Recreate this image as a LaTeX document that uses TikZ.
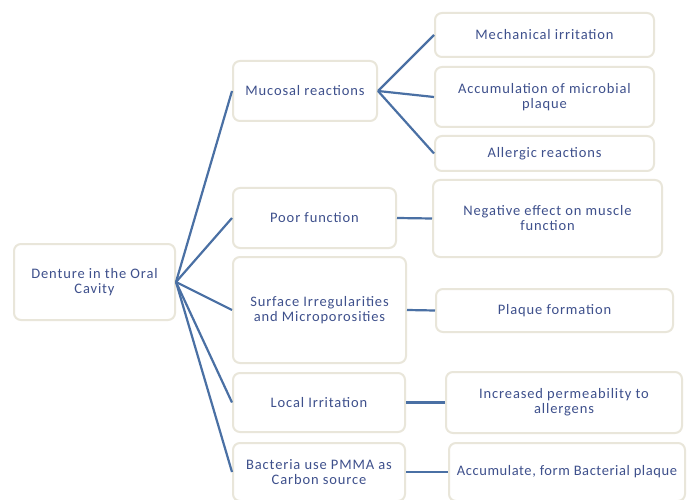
\documentclass[tikz,border=0pt]{standalone}
\usepackage{fontspec}
\setmainfont{Carlito}[LetterSpace=6]
\newfontfamily\tightfont{Carlito}[LetterSpace=4]
\definecolor{txtblue}{RGB}{62,80,140}
\definecolor{lineblue}{RGB}{74,112,164}
\definecolor{boxborder}{RGB}{233,230,218}
\tikzset{
  box/.style={draw=boxborder, line width=2pt, rounded corners=7pt, fill=white,
    text=txtblue, align=center, font=\fontsize{14.5}{15}\selectfont, inner sep=0pt},
  conn/.style={draw=lineblue, line width=2.2pt}
}
\begin{document}
\begin{tikzpicture}[x=1pt,y=-1pt]
\useasboundingbox (0,0) rectangle (694,500);
\fill[white] (0,0) rectangle (694,500);
\node[box, minimum width=161pt, minimum height=76pt] (root) at (94.5,282) {Denture in the Oral\\Cavity};
\node[box, minimum width=144pt, minimum height=60pt] (muc) at (305,91) {Mucosal reactions};
\node[box, minimum width=219pt, minimum height=44pt] (mech) at (544.5,35) {Mechanical irritation};
\node[box, minimum width=219pt, minimum height=60pt] (accum) at (544.5,97) {Accumulation of microbial\\plaque};
\node[box, minimum width=219pt, minimum height=35pt] (aller) at (544.5,153.5) {Allergic reactions};
\node[box, minimum width=163pt, minimum height=60pt] (poor) at (314.5,218) {Poor function};
\node[box, minimum width=229pt, minimum height=77pt] (neg) at (547.5,218.5) {Negative effect on muscle\\function};
\node[box, minimum width=173pt, minimum height=106pt] (surf) at (319.5,310) {Surface Irregularities\\and Microporosities};
\node[box, minimum width=237pt, minimum height=43pt] (plaq) at (554.5,310.5) {Plaque formation};
\node[box, minimum width=172pt, minimum height=59pt] (local) at (319,402.5) {Local Irritation};
\node[box, minimum width=236pt, minimum height=61pt] (incr) at (564,402.5) {Increased permeability to\\allergens};
\node[box, minimum width=172pt, minimum height=58pt] (bact) at (319,472) {Bacteria use PMMA as\\Carbon source};
\node[box, minimum width=236pt, minimum height=58pt, font=\tightfont\fontsize{14.5}{15}\selectfont] (accb) at (567,472) {Accumulate, form Bacterial plaque};
\draw[conn] (root.east) -- (muc.west);
\draw[conn] (root.east) -- (poor.west);
\draw[conn] (root.east) -- (surf.west);
\draw[conn] (root.east) -- (local.west);
\draw[conn] (root.east) -- (bact.west);
\draw[conn] (muc.east) -- (mech.west);
\draw[conn] (muc.east) -- (accum.west);
\draw[conn] (muc.east) -- (aller.west);
\draw[conn] (poor.east) -- (neg.west);
\draw[conn] (surf.east) -- (plaq.west);
\draw[conn] (local.east) -- (incr.west);
\draw[conn] (bact.east) -- (accb.west);
\end{tikzpicture}
\end{document}
